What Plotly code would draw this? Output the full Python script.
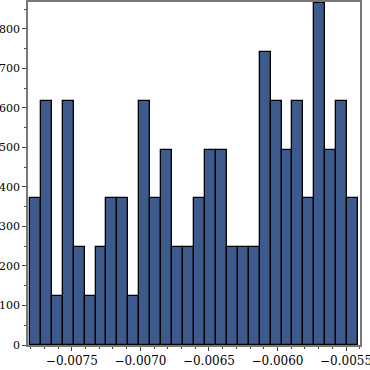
import plotly.graph_objects as go

# Histogram data
bin_start = -0.007806
bin_width = 0.0000798
counts = [371, 618, 124, 618, 247, 124, 247, 371, 371, 124,
          618, 371, 494, 247, 247, 371, 494, 494, 247, 247,
          247, 742, 618, 494, 618, 371, 865, 494, 618, 371]
x_tickvals = [-0.0075, -0.0070, -0.0065, -0.0060, -0.0055]
y_tickvals = [0, 100, 200, 300, 400, 500, 600, 700, 800]

centers = [bin_start + bin_width * (i + 0.5) for i in range(len(counts))]

fig = go.Figure(go.Bar(
    x=centers, y=counts, width=[bin_width] * len(counts),
    marker=dict(color="#3d5a8c", line=dict(color="#000000", width=1.3)),
))

xfont = dict(family="DejaVu Serif", size=12, color="#000000")
yfont = dict(family="DejaVu Serif", size=11, color="#000000")
fig.update_layout(
    width=370, height=370,
    margin=dict(l=28, r=10, t=2, b=25, autoexpand=False),
    plot_bgcolor="white", paper_bgcolor="white",
    showlegend=False, bargap=0, font=xfont,
)
fig.update_xaxes(
    range=[-0.00782, -0.005398], automargin=False,
    tickvals=x_tickvals, tickformat=".4f", ticklabeloverflow="allow",
    ticks="outside", ticklen=4, tickcolor="#444",
    minor=dict(dtick=0.0001, tick0=-0.0075, ticks="outside", ticklen=2, tickcolor="#444"),
    showline=True, linecolor="#777", linewidth=1.5, mirror=True,
    showgrid=False, zeroline=False, tickfont=xfont,
)
fig.update_yaxes(
    range=[0, 868], automargin=False, ticklabeloverflow="allow",
    tickvals=y_tickvals,
    ticks="outside", ticklen=4, tickcolor="#444",
    minor=dict(dtick=50, ticks="outside", ticklen=2, tickcolor="#444"),
    showline=True, linecolor="#777", linewidth=1.5, mirror=True,
    showgrid=False, zeroline=False, tickfont=yfont,
)

fig.write_html(
    "out.html",
    config={"displayModeBar": False},
    post_script="document.body.style.margin='0';document.body.style.overflow='hidden';",
)
